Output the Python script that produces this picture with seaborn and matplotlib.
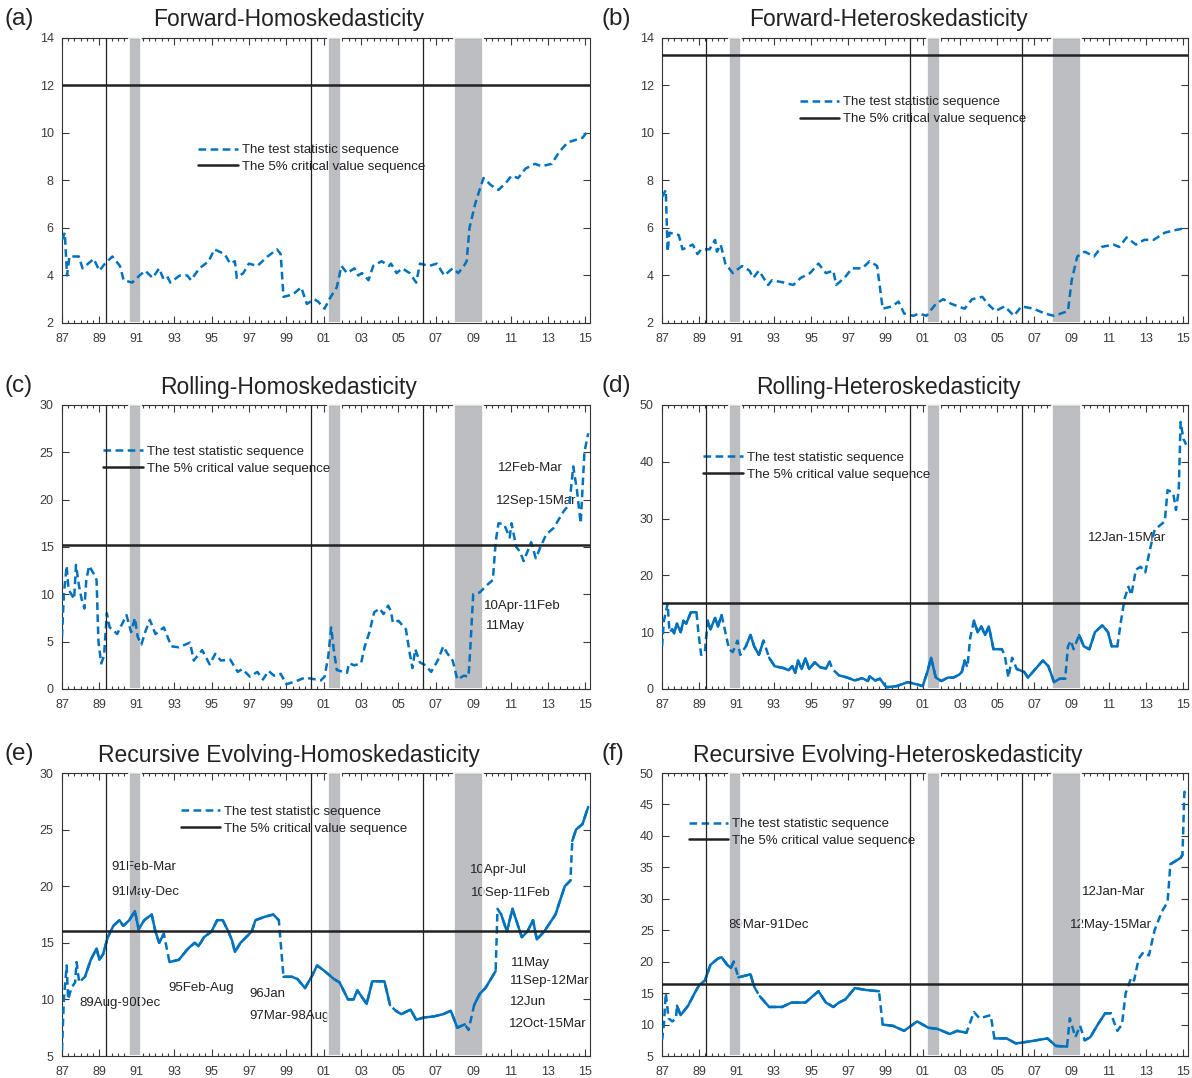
import numpy as np
import pandas as pd
import seaborn as sns
import matplotlib.pyplot as plt
from matplotlib.ticker import FixedLocator, MultipleLocator

sns.set_theme(style='ticks')
plt.rcParams['font.family'] = ['Liberation Sans', 'DejaVu Sans']
plt.rcParams['lines.scale_dashes'] = False

# ---- data ----
panel_tags = ['(a)', '(b)', '(c)', '(d)', '(e)', '(f)']
titles = ['Forward-Homoskedasticity', 'Forward-Heteroskedasticity',
          'Rolling-Homoskedasticity', 'Rolling-Heteroskedasticity',
          'Recursive Evolving-Homoskedasticity', 'Recursive Evolving-Heteroskedasticity']
crit_values = [12.0, 13.3, 15.2, 15.2, 16.0, 16.5]
recessions = [(1990.57, 1991.25), (2001.23, 2001.95), (2007.95, 2009.5)]
event_years = [1989.34, 2000.33, 2006.34]
xtick_years = list(range(1987, 2016, 2))
xtick_labels = ['87', '89', '91', '93', '95', '97', '99', '01', '03', '05', '07', '09', '11', '13', '15']
legend_labels = ['The test statistic sequence', 'The 5% critical value sequence']

years_a = [1987.0, 1987.15, 1987.27, 1987.4, 1987.9, 1988.1, 1988.4, 1988.7, 1989.0, 1989.3,
           1989.7, 1990.1, 1990.3, 1990.75, 1991.15, 1991.45, 1991.85, 1992.2, 1992.4, 1992.6,
           1992.8, 1993.3, 1993.7, 1993.9, 1994.35, 1994.85, 1995.15, 1995.7, 1996.0, 1996.25,
           1996.35, 1996.7, 1997.0, 1997.45, 1998.0, 1998.5, 1998.7, 1998.85, 1999.35, 1999.8,
           2000.1, 2000.5, 2000.7, 2001.05, 2001.3, 2001.7, 2001.95, 2002.25, 2002.65, 2002.85,
           2003.05, 2003.4, 2003.65, 2004.1, 2004.5, 2004.6, 2004.9, 2005.2, 2005.6, 2005.95,
           2006.15, 2006.65, 2007.05, 2007.45, 2007.9, 2008.2, 2008.5, 2008.65, 2008.8, 2009.1,
           2009.3, 2009.55, 2009.95, 2010.35, 2010.75, 2011.05, 2011.4, 2011.8, 2012.3, 2012.65,
           2013.2, 2013.6, 2014.05, 2014.45, 2014.85, 2015.15]
stat_a = [5.5, 5.8, 4.0, 4.8, 4.8, 4.3, 4.5, 4.7, 4.2, 4.5,
          4.8, 4.4, 3.8, 3.7, 4.0, 4.2, 3.9, 4.3, 3.9, 4.0,
          3.7, 4.0, 4.0, 3.8, 4.3, 4.6, 5.1, 4.9, 4.5, 4.6,
          3.9, 4.1, 4.5, 4.4, 4.8, 5.1, 4.9, 3.1, 3.2, 3.5,
          2.8, 3.0, 2.9, 2.6, 3.0, 3.5, 4.4, 4.1, 4.3, 4.0,
          4.1, 3.8, 4.4, 4.6, 4.4, 4.5, 4.1, 4.3, 4.1, 3.7,
          4.5, 4.4, 4.5, 4.0, 4.3, 4.1, 4.4, 4.6, 6.0, 7.0,
          7.5, 8.1, 7.8, 7.6, 7.9, 8.2, 8.1, 8.5, 8.7, 8.6,
          8.7, 9.2, 9.6, 9.7, 9.8, 10.1]

years_b = [1987.0, 1987.2, 1987.3, 1987.4, 1987.9, 1988.1, 1988.65, 1988.9, 1989.1, 1989.55,
           1989.85, 1989.95, 1990.15, 1990.4, 1990.8, 1991.3, 1991.7, 1991.9, 1992.2, 1992.7,
           1992.9, 1993.55, 1994.05, 1994.45, 1994.95, 1995.4, 1995.8, 1996.2, 1996.35, 1996.8,
           1997.2, 1997.75, 1998.15, 1998.55, 1998.85, 1999.35, 1999.7, 2000.0, 2000.5, 2000.8,
           2001.2, 2001.7, 2002.1, 2002.55, 2003.25, 2003.65, 2004.2, 2004.5, 2004.9, 2005.4,
           2005.9, 2006.3, 2006.95, 2007.55, 2008.05, 2008.8, 2009.0, 2009.3, 2009.7, 2010.2,
           2010.6, 2011.25, 2011.55, 2011.95, 2012.45, 2012.9, 2013.4, 2014.0, 2014.5, 2015.15]
stat_b = [7.3, 7.6, 5.0, 5.8, 5.7, 5.1, 5.3, 4.9, 5.1, 5.1,
          5.5, 5.0, 5.3, 4.5, 4.1, 4.4, 4.2, 3.9, 4.2, 3.6,
          3.8, 3.7, 3.6, 3.9, 4.1, 4.5, 4.1, 4.2, 3.6, 3.9,
          4.3, 4.3, 4.6, 4.4, 2.6, 2.7, 2.9, 2.4, 2.3, 2.4,
          2.3, 2.8, 3.0, 2.8, 2.6, 3.0, 3.1, 2.8, 2.5, 2.7,
          2.3, 2.7, 2.6, 2.4, 2.3, 2.5, 3.8, 4.8, 5.0, 4.8,
          5.2, 5.3, 5.2, 5.6, 5.3, 5.5, 5.5, 5.8, 5.9, 6.0]

years_c = [1987.0, 1987.1, 1987.25, 1987.35, 1987.5, 1987.65, 1987.75, 1987.9, 1988.05, 1988.2,
           1988.3, 1988.45, 1988.75, 1988.85, 1988.95, 1989.1, 1989.25, 1989.4, 1989.55, 1989.75,
           1989.95, 1990.25, 1990.45, 1990.7, 1990.9, 1991.05, 1991.25, 1991.45, 1991.7, 1992.0,
           1992.45, 1992.85, 1993.25, 1993.85, 1994.05, 1994.5, 1994.9, 1995.2, 1995.5, 1996.0,
           1996.4, 1996.65, 1997.05, 1997.45, 1997.75, 1998.05, 1998.35, 1998.7, 1999.0, 1999.5,
           2000.0, 2000.3, 2000.85, 2001.05, 2001.25, 2001.4, 2001.55, 2001.7, 2002.05, 2002.25,
           2002.35, 2002.65, 2003.0, 2003.2, 2003.45, 2003.7, 2004.0, 2004.2, 2004.45, 2004.6,
           2004.7, 2005.0, 2005.4, 2005.6, 2005.75, 2005.9, 2006.15, 2006.45, 2006.75, 2007.1,
           2007.4, 2007.6, 2007.9, 2008.15, 2008.5, 2008.75, 2008.85, 2009.0, 2009.35, 2009.75,
           2010.05, 2010.2, 2010.35, 2010.65, 2010.95, 2011.05, 2011.3, 2011.5, 2011.7, 2011.9,
           2012.1, 2012.35, 2012.6, 2012.9, 2013.3, 2013.85, 2014.15, 2014.35, 2014.55, 2014.75,
           2014.95, 2015.15]
stat_c = [5.5, 10.0, 13.0, 10.5, 10.0, 9.5, 13.1, 11.0, 9.5, 8.5,
          11.5, 13.0, 12.0, 11.5, 5.0, 2.7, 3.5, 8.0, 6.5, 6.2,
          5.8, 7.0, 7.8, 6.0, 7.5, 5.5, 4.7, 6.0, 7.3, 5.8,
          6.5, 4.5, 4.4, 4.9, 3.0, 4.1, 2.6, 3.7, 3.0, 3.1,
          1.8, 2.1, 1.3, 1.8, 1.0, 1.9, 1.4, 1.6, 0.5, 0.8,
          1.2, 1.1, 0.9, 1.3, 3.5, 6.5, 4.0, 2.0, 1.8, 1.7,
          2.7, 2.5, 2.7, 4.5, 6.0, 8.1, 8.5, 7.9, 8.8, 8.2,
          7.0, 7.2, 6.3, 3.8, 2.2, 4.2, 2.8, 2.5, 1.8, 3.0,
          4.5, 3.8, 3.0, 1.0, 1.4, 1.3, 4.5, 10.0, 10.2, 11.0,
          11.5, 15.5, 17.5, 17.4, 16.0, 17.5, 15.0, 14.5, 13.5, 14.5,
          15.5, 13.8, 15.0, 16.3, 17.0, 18.8, 19.5, 23.5, 21.0, 17.5,
          25.0, 27.0]

years_d = [1987.0, 1987.1, 1987.3, 1987.4, 1987.55, 1987.65, 1987.8, 1988.0, 1988.15, 1988.3,
           1988.55, 1988.85, 1988.95, 1989.1, 1989.3, 1989.45, 1989.6, 1989.85, 1990.0, 1990.2,
           1990.4, 1990.6, 1990.8, 1991.05, 1991.2, 1991.5, 1991.75, 1991.95, 1992.2, 1992.45,
           1992.75, 1993.05, 1993.5, 1993.8, 1994.0, 1994.15, 1994.3, 1994.5, 1994.7, 1994.9,
           1995.2, 1995.5, 1995.8, 1996.0, 1996.15, 1996.5, 1996.95, 1997.35, 1997.75, 1998.05,
           1998.15, 1998.45, 1998.7, 1999.05, 1999.6, 2000.2, 2000.7, 2001.0, 2001.25, 2001.45,
           2001.7, 2002.0, 2002.35, 2002.65, 2002.95, 2003.1, 2003.25, 2003.4, 2003.55, 2003.75,
           2003.95, 2004.15, 2004.35, 2004.55, 2004.8, 2005.25, 2005.4, 2005.6, 2005.8, 2006.05,
           2006.45, 2006.65, 2007.05, 2007.45, 2007.75, 2008.05, 2008.35, 2008.65, 2008.8, 2008.95,
           2009.1, 2009.4, 2009.65, 2009.95, 2010.25, 2010.65, 2010.95, 2011.15, 2011.45, 2011.65,
           2011.85, 2012.05, 2012.2, 2012.45, 2012.7, 2012.95, 2013.2, 2013.45, 2014.0, 2014.15,
           2014.45, 2014.6, 2014.75, 2014.85, 2015.0, 2015.15]
stat_d = [7.5, 12.0, 15.0, 10.0, 10.5, 9.8, 11.5, 10.0, 12.0, 11.5,
          13.5, 13.5, 10.0, 6.0, 6.5, 12.0, 10.5, 12.5, 11.0, 13.0,
          10.0, 7.0, 6.5, 8.5, 6.0, 7.5, 9.5, 7.5, 6.0, 8.5,
          5.5, 4.0, 3.7, 3.3, 4.0, 2.8, 5.0, 3.5, 5.4, 3.5,
          4.7, 3.8, 3.6, 4.8, 3.5, 2.4, 2.0, 1.5, 1.9, 1.4,
          2.2, 1.5, 1.8, 0.3, 0.5, 1.2, 0.8, 0.5, 3.0, 5.5,
          2.0, 1.4, 2.0, 2.0, 2.5, 3.0, 5.0, 3.8, 9.0, 12.0,
          10.0, 11.0, 9.5, 11.0, 7.0, 7.0, 6.0, 2.0, 5.5, 3.5,
          3.0, 2.0, 3.5, 5.0, 4.0, 1.2, 1.8, 1.8, 7.5, 8.5,
          7.0, 9.5, 7.5, 7.0, 10.0, 11.2, 10.0, 7.5, 7.5, 12.0,
          16.0, 18.0, 16.5, 21.0, 21.5, 20.5, 24.5, 28.0, 29.5, 35.0,
          34.5, 31.5, 35.0, 47.0, 44.0, 43.0]

years_e = [1987.0, 1987.1, 1987.25, 1987.33, 1987.5, 1987.7, 1987.78, 1987.92, 1988.23, 1988.54,
           1988.85, 1989.0, 1989.2, 1989.45, 1989.75, 1990.07, 1990.28, 1990.6, 1990.9, 1991.1,
           1991.4, 1991.8, 1992.0, 1992.2, 1992.45, 1992.75, 1993.25, 1993.75, 1994.1, 1994.3,
           1994.6, 1995.0, 1995.3, 1995.6, 1995.9, 1996.1, 1996.25, 1996.55, 1996.85, 1997.15,
           1997.35, 1997.85, 1998.3, 1998.6, 1998.85, 1999.3, 1999.6, 2000.0, 2000.35, 2000.65,
           2001.05, 2001.55, 2001.85, 2002.3, 2002.6, 2002.8, 2003.3, 2003.6, 2004.25, 2004.55,
           2004.85, 2005.15, 2005.65, 2005.95, 2006.35, 2006.9, 2007.4, 2007.8, 2008.15, 2008.55,
           2008.75, 2009.05, 2009.35, 2009.65, 2010.2, 2010.3, 2010.5, 2010.8, 2011.1, 2011.6,
           2011.9, 2012.2, 2012.4, 2012.8, 2013.4, 2013.9, 2014.2, 2014.3, 2014.5, 2014.85,
           2015.15]
stat_e = [5.5, 10.0, 13.0, 10.0, 11.0, 11.5, 13.3, 11.5, 12.0, 13.5,
          14.5, 13.5, 14.0, 15.5, 16.5, 17.0, 16.5, 17.0, 17.8, 16.2,
          17.0, 17.5, 16.0, 15.0, 15.8, 13.3, 13.5, 14.5, 15.0, 14.7,
          15.5, 16.0, 17.0, 17.0, 16.0, 15.2, 14.2, 15.0, 15.5, 16.0,
          17.0, 17.3, 17.5, 17.0, 12.0, 12.0, 11.8, 11.0, 12.0, 13.0,
          12.5, 11.8, 11.5, 10.0, 10.0, 10.8, 9.6, 11.6, 11.6, 9.5,
          9.0, 8.7, 9.1, 8.2, 8.4, 8.5, 8.7, 9.0, 7.5, 7.8,
          7.3, 9.5, 10.5, 11.0, 12.5, 18.0, 17.5, 16.0, 18.0, 15.5,
          16.0, 17.0, 15.3, 16.0, 17.5, 20.0, 20.5, 24.0, 25.0, 25.5,
          27.0]

years_f = [1987.0, 1987.1, 1987.2, 1987.35, 1987.55, 1987.75, 1987.8, 1988.0, 1988.4, 1988.75,
           1989.0, 1989.3, 1989.6, 1990.0, 1990.2, 1990.5, 1990.7, 1990.85, 1991.1, 1991.75,
           1991.95, 1992.25, 1992.75, 1993.45, 1993.95, 1994.7, 1995.4, 1995.8, 1996.2, 1996.5,
           1996.85, 1997.35, 1997.95, 1998.65, 1998.85, 1999.4, 2000.0, 2000.7, 2001.3, 2001.8,
           2002.45, 2002.85, 2003.35, 2003.75, 2004.05, 2004.65, 2004.85, 2005.5, 2006.0, 2006.7,
           2007.7, 2008.15, 2008.75, 2008.9, 2009.2, 2009.45, 2009.7, 2010.0, 2010.4, 2010.8,
           2011.1, 2011.45, 2011.7, 2011.9, 2012.2, 2012.35, 2012.6, 2012.85, 2013.15, 2013.45,
           2013.85, 2014.15, 2014.3, 2014.85, 2014.95, 2015.05, 2015.2]
stat_f = [7.5, 10.0, 15.0, 11.0, 10.5, 11.0, 13.0, 11.5, 13.0, 15.0,
          16.3, 17.0, 19.5, 20.5, 20.7, 19.5, 19.0, 20.0, 17.5, 18.0,
          16.0, 14.5, 12.8, 12.8, 13.5, 13.5, 15.3, 13.5, 12.8, 13.5,
          14.0, 15.8, 15.5, 15.3, 10.0, 9.8, 9.0, 10.5, 9.5, 9.3,
          8.5, 9.0, 8.7, 12.0, 11.0, 11.5, 7.8, 7.8, 7.0, 7.3,
          7.8, 6.6, 6.5, 11.0, 8.0, 9.8, 7.5, 8.0, 10.0, 11.8,
          11.8, 9.0, 10.0, 15.0, 17.5, 17.0, 20.5, 21.5, 21.0, 25.0,
          28.0, 29.5, 35.5, 36.5, 37.0, 47.0, 47.0]

notes_c = ['12Feb-Mar', '12Sep-15Mar', '10Apr-11Feb', '11May']
notes_d = ['12Jan-15Mar']
notes_e = ['91Feb-Mar', '91May-Dec', '95Feb-Aug', '89Aug-90Dec', '96Jan', '97Mar-98Aug',
           '10Apr-Jul', '10Sep-11Feb', '11May', '11Sep-12Mar', '12Jun', '12Oct-15Mar']
notes_f = ['89Mar-91Dec', '12Jan-Mar', '12May-15Mar']

series = [(years_a, stat_a), (years_b, stat_b), (years_c, stat_c),
          (years_d, stat_d), (years_e, stat_e), (years_f, stat_f)]
notes = [[], [], notes_c, notes_d, notes_e, notes_f]

# ---- layout / style ----
ylims = [(2, 14), (2, 14), (0, 30), (0, 50), (5, 30), (5, 50)]
ysteps = [2, 2, 5, 10, 5, 5]
note_pos = [[], [],
            [(2010.35, 23.3), (2010.2, 19.9), (2009.6, 8.8), (2009.7, 6.7)],
            [(2009.9, 26.6)],
            [(1989.65, 21.7), (1989.65, 19.5), (1992.68, 11.0), (1987.95, 9.7), (1997.05, 10.5),
             (1997.05, 8.5), (2008.85, 21.4), (2008.9, 19.4), (2011.0, 13.2), (2010.96, 11.6),
             (2010.96, 9.8), (2010.9, 7.85)],
            [(1990.58, 25.8), (2009.53, 31.1), (2008.9, 25.9)]]
legend_anchor = [(0.258, 0.577), (0.262, 0.745), (0.078, 0.805),
                 (0.078, 0.785), (0.225, 0.834), (0.051, 0.790)]
solid_spans = [[], [], [],
               [(1987.55, 1988.9), (1989.45, 1990.35), (1991.3, 1992.6), (1992.75, 1996.05),
                (1996.45, 2003.35), (2003.75, 2005.3), (2005.95, 2008.7), (2009.35, 2011.6)],
               [(1988.2, 1992.6), (1992.75, 1998.65), (1998.85, 2004.6), (2004.85, 2008.7),
                (2009.05, 2010.2), (2010.5, 2014.2), (2014.3, 2015.2)],
               [(1987.8, 1990.9), (1991.1, 1991.95), (1992.25, 1998.7), (1998.85, 2003.6),
                (2004.85, 2008.75), (2009.7, 2011.3), (2014.3, 2014.95)]]

blue = '#0072BD'
band_color = '#BDBEC2'
ink = '#222222'
axes_rect = [[0.052, 0.7004, 0.4430, 0.2644], [0.5554, 0.7004, 0.4413, 0.2644],
             [0.052, 0.3609, 0.4430, 0.2635], [0.5554, 0.3609, 0.4413, 0.2635],
             [0.052, 0.0204, 0.4430, 0.2625], [0.5554, 0.0204, 0.4413, 0.2625]]

fig = plt.figure(figsize=(11.92, 10.78), dpi=100)

for i in range(6):
    ax = fig.add_axes(axes_rect[i])
    yrs, vals = series[i]
    df = pd.DataFrame({'year': yrs, 'stat': vals})

    # recession bands: grey face below the notes, white border above them
    for a, b in recessions:
        ax.axvspan(a, b, facecolor=band_color, edgecolor='none', zorder=1.5)
        ax.axvspan(a, b, facecolor='none', edgecolor='white', lw=1.2, zorder=2.7)

    sns.lineplot(data=df, x='year', y='stat', ax=ax, color=blue, lw=1.8,
                 linestyle='--', estimator=None, zorder=3)
    stat_line = ax.get_lines()[-1]
    stat_line.set_dashes((5.5, 3.2))
    for a, b in solid_spans[i]:
        part = df[(df['year'] >= a) & (df['year'] <= b)]
        sns.lineplot(data=part, x='year', y='stat', ax=ax, color=blue, lw=1.8,
                     estimator=None, zorder=3.05)

    crit_line = ax.axhline(crit_values[i], color=ink, lw=1.8, zorder=3.5)
    for ev in event_years:
        ax.axvline(ev, color=ink, lw=0.9, zorder=3.4)

    for txt, (tx, ty) in zip(notes[i], note_pos[i]):
        ax.text(tx, ty, txt, fontsize=9.5, color=ink, ha='left', va='center', zorder=2)

    leg = ax.legend([stat_line, crit_line], legend_labels, loc='center left',
                    bbox_to_anchor=legend_anchor[i], frameon=False, fontsize=9.5,
                    handlelength=3.0, handletextpad=0.3, labelspacing=0.35,
                    borderpad=0, borderaxespad=0)
    leg.set_zorder(2.8)
    for t in leg.get_texts():
        t.set_color(ink)

    ax.set_xlim(1987, 2015.25)
    ax.set_ylim(*ylims[i])
    ax.xaxis.set_major_locator(FixedLocator(xtick_years))
    ax.set_xticklabels(xtick_labels)
    ax.xaxis.set_minor_locator(MultipleLocator(1 / 3))
    ax.yaxis.set_major_locator(MultipleLocator(ysteps[i]))
    ax.tick_params(axis='both', which='both', direction='in', top=True, right=True,
                   labelsize=9, colors='#3a3a3a', width=0.8)
    ax.tick_params(axis='y', which='major', length=5, pad=6)
    ax.tick_params(axis='x', which='major', length=5, pad=7)
    ax.tick_params(axis='x', which='minor', length=2.5)
    ax.set_xlabel('')
    ax.set_ylabel('')
    for sp in ax.spines.values():
        sp.set_color('#333333')
        sp.set_linewidth(0.8)

    ax.text(0.43, 1.063, titles[i], transform=ax.transAxes, ha='center', va='center',
            fontsize=16.5, color=ink)
    fig.text(0.004 if i % 2 == 0 else 0.505, axes_rect[i][1] + axes_rect[i][3] + 0.0175,
             panel_tags[i], ha='left', va='center', fontsize=17.5, color=ink)

fig.savefig('out.png', dpi=100)
